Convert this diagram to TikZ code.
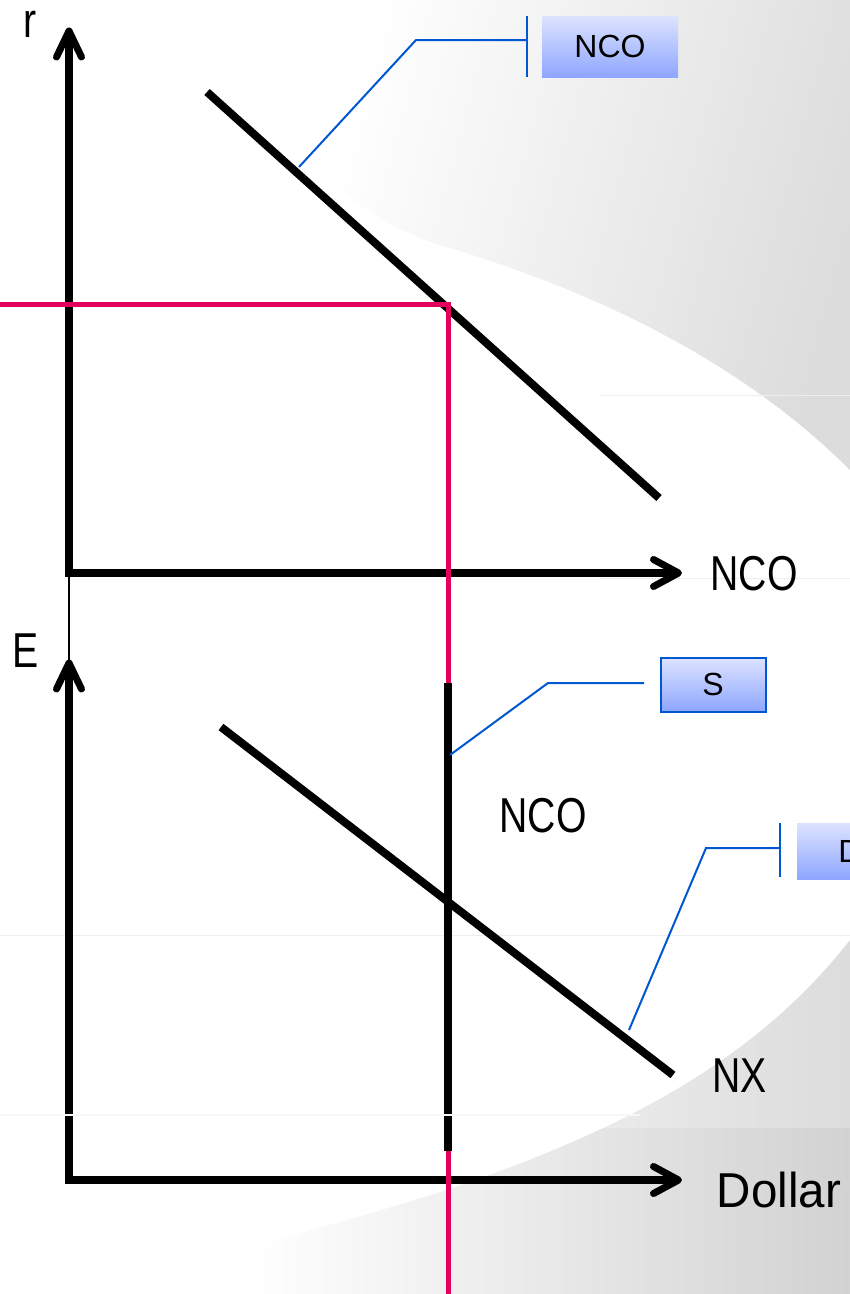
\documentclass[tikz,border=0pt]{standalone}
\usepackage{fontspec}
\setmainfont{Liberation Sans}
\newfontfamily\axisfont[FakeStretch=0.8]{Liberation Sans}
\newfontfamily\axiswide[FakeStretch=0.97]{Liberation Sans}
\usetikzlibrary{calc}
\definecolor{redline}{HTML}{E2005A}
\definecolor{callblue}{HTML}{0057D2}
\definecolor{boxtop}{HTML}{DDE3FF}
\definecolor{boxbot}{HTML}{8EA6FF}
\definecolor{swoosh}{HTML}{DCDCDC}
\definecolor{swooshdark}{HTML}{D2D2D2}
\definecolor{faint}{HTML}{EEEEEE}
\tikzset{
  axisline/.style={line width=8.5pt, line join=miter},
  chevron/.style={line width=7pt, line cap=round, line join=round},
  curveline/.style={line width=8pt},
  thinaxis/.style={line width=2.5pt},
  eqline/.style={redline, line width=5pt, line join=miter},
  callout/.style={callblue, line width=2pt},
  calloutbox/.style={top color=boxtop, bottom color=boxbot, inner sep=0pt,
     font=\fontsize{32}{32}\selectfont},
  axlabel/.style={font=\axisfont\fontsize{49}{49}\selectfont, inner sep=0pt, anchor=base},
}
\begin{document}
\begin{tikzpicture}[x=1pt,y=-1pt]
\useasboundingbox (0,0) rectangle (850,1294);
\clip (0,0) rectangle (850,1294);
% background
\fill[white] (0,0) rectangle (850,1294);
\begin{scope}
  \clip (200,0) -- (850,0) -- (850,470) .. controls (750,370) and (610,295) .. (440,245)
        .. controls (340,215) and (260,120) .. (200,0) -- cycle;
  \shade[left color=white, right color=swoosh, shading angle=75] (330,-60) rectangle (850,480);
\end{scope}
\begin{scope}
  \clip (850,940) .. controls (760,1055) and (620,1145) .. (340,1222)
  .. controls (250,1247) and (180,1272) .. (120,1294) -- (850,1294) -- cycle;
  \shade[left color=white, right color=swoosh] (250,930) rectangle (850,1294);
  \shade[left color=white, right color=swooshdark] (250,1128) rectangle (850,1294);
\end{scope}
\draw[faint, line width=1pt] (600,395) -- (850,395);
\draw[faint, line width=1pt] (600,578) -- (850,578);
\draw[faint, line width=1pt] (0,935) -- (850,935);
% coordinates
\coordinate (uTop) at (69,36);
\coordinate (uO) at (69,573);
\coordinate (uRight) at (676,573);
\coordinate (lTop) at (69,666);
\coordinate (lO) at (69,1180);
\coordinate (lRight) at (676,1180);
% upper axes
\draw[axisline] (uTop) -- (uO) -- (uRight);
\draw[chevron] (56.5,57) -- (69,31) -- (81.5,57);
\draw[chevron] (653.5,559.5) -- (678.5,573) -- (653.5,586.5);
\draw[thinaxis] (69,577) -- (69,664);
% lower axes
\draw[axisline] (lTop) -- (lO) -- (lRight);
\draw[chevron] (56.5,689) -- (69,663) -- (81.5,689);
\draw[chevron] (653.5,1166.5) -- (678.5,1180) -- (653.5,1193.5);
% NCO demand curve
\coordinate (dA) at (207,92);
\coordinate (dB) at (659,498);
\draw[curveline] (dA) -- (dB);
% equilibrium red lines
\coordinate (rL) at (0,304);
\coordinate (rC) at (448,304);
\coordinate (rB) at (448,1294);
\draw[eqline] (rL) -- (rC) -- (rB);
% supply of dollars (vertical) and NX
\coordinate (sT) at (447.5,683);
\coordinate (sB) at (447.5,1151);
\draw[curveline] (sT) -- (sB);
\coordinate (nA) at (221,727);
\coordinate (nB) at (673,1075);
\draw[curveline] (nA) -- (nB);
% faint slide line creating small gaps
\draw[white!94!gray, line width=1.5pt] (0,1115) -- (640,1115);
% callouts
\coordinate (c1s) at (299,167);
\coordinate (c1b) at (416,40);
\coordinate (c1e) at (527,40);
\draw[callout] (c1s) -- (c1b) -- (c1e);
\draw[callout] (527,16) -- (527,77);
\node[calloutbox, minimum width=136pt, minimum height=61pt] (boxNCO) at (610,46.5) {NCO};
\coordinate (c2s) at (450,755);
\coordinate (c2b) at (548,683);
\coordinate (c2e) at (644,683);
\draw[callout] (c2s) -- (c2b) -- (c2e);
\node[calloutbox, draw=callblue, line width=2pt, minimum width=105pt, minimum height=54pt] (boxS) at (713,684.5) {S};
\coordinate (c3s) at (629,1030);
\coordinate (c3b) at (706,848);
\coordinate (c3e) at (780,848);
\draw[callout] (c3s) -- (c3b) -- (c3e);
\draw[callout] (780,823) -- (780,877);
\node[calloutbox, minimum width=106pt, minimum height=56pt] (boxD) at (850,851) {D};
% axis labels
\node[axlabel] (labR) at (30.5,37) {r};
\node[axlabel] (labNCO) at (754,590) {NCO};
\node[axlabel] (labE) at (25.5,667) {E};
\node[axlabel] (labNCO2) at (543,832) {NCO};
\node[axlabel] (labNX) at (739.5,1092) {NX};
\node[axlabel, font=\axiswide\fontsize{49}{49}\selectfont] (labDollar) at (779,1207) {Dollar};
\end{tikzpicture}
\end{document}
